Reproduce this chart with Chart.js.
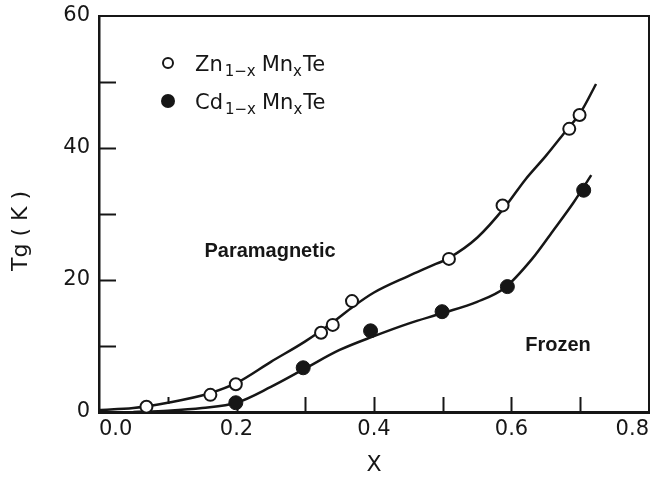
<!DOCTYPE html>
<html>
<head>
<meta charset="utf-8">
<title>Tg vs x</title>
<script src="https://cdn.jsdelivr.net/npm/chart.js@4/dist/chart.umd.min.js"></script>
<style>
  html, body { margin: 0; padding: 0; background: #fff; }
  #wrap { width: 651px; height: 481px; }
</style>
</head>
<body>
<div id="wrap"><canvas id="chart" width="651" height="481"></canvas></div>
<script>
// measured points
var znX  = [0.069, 0.162, 0.199, 0.323, 0.340, 0.368, 0.509, 0.587, 0.684, 0.699];
var znTg = [0.8, 2.6, 4.2, 12.0, 13.2, 16.8, 23.2, 31.3, 42.9, 45.0];
var cdX  = [0.199, 0.297, 0.395, 0.499, 0.594, 0.705];
var cdTg = [1.4, 6.7, 12.3, 15.2, 19.0, 33.6];

// hand-drawn guide curves
var znCurveX  = [0.0, 0.05, 0.10, 0.16, 0.20, 0.25, 0.30, 0.34, 0.37, 0.40, 0.45, 0.48, 0.51, 0.55, 0.59, 0.62, 0.65, 0.68, 0.70, 0.723];
var znCurveTg = [0.3, 0.6, 1.4, 2.8, 4.4, 7.6, 10.7, 13.6, 16.0, 18.1, 20.6, 22.0, 23.4, 26.4, 31.0, 35.2, 38.8, 42.7, 45.3, 49.7];
var cdCurveX  = [0.05, 0.10, 0.15, 0.20, 0.25, 0.30, 0.35, 0.40, 0.45, 0.50, 0.55, 0.59, 0.63, 0.66, 0.69, 0.716];
var cdCurveTg = [0.0, 0.2, 0.6, 1.4, 3.8, 6.6, 9.4, 11.5, 13.4, 15.0, 16.7, 18.8, 23.2, 27.4, 31.7, 35.9];

var xTicks = [0.1, 0.2, 0.3, 0.4, 0.5, 0.6, 0.7];
var yTicks = [10, 20, 30, 40, 50];

var INK = '#161616';
var FONT = "'DejaVu Sans', sans-serif";

function pts(xs, ys) {
  return xs.map(function (x, i) { return { x: x, y: ys[i] }; });
}

// inner ticks plus top/right frame
var framePlugin = {
  id: 'frame',
  beforeDatasetsDraw: function (chart) {
    var ctx = chart.ctx, a = chart.chartArea;
    var xs = chart.scales.x, ys = chart.scales.y;
    ctx.save();
    ctx.strokeStyle = INK;
    ctx.lineWidth = 2;
    ctx.beginPath();
    ctx.moveTo(a.left, a.top);
    ctx.lineTo(a.right, a.top);
    ctx.lineTo(a.right, a.bottom);
    ctx.stroke();
    yTicks.forEach(function (v) {
      var py = Math.round(ys.getPixelForValue(v)) + 0.5;
      ctx.beginPath();
      ctx.moveTo(a.left, py);
      ctx.lineTo(a.left + 17, py);
      ctx.stroke();
    });
    xTicks.forEach(function (v, i) {
      var px = Math.round(xs.getPixelForValue(v)) + 0.5;
      // the 0.1 tick is only a short stub
      var lift = i === 0 ? 8 : 0;
      var len = i === 0 ? 7 : 15;
      ctx.beginPath();
      ctx.moveTo(px, a.bottom - lift);
      ctx.lineTo(px, a.bottom - lift - len);
      ctx.stroke();
    });
    ctx.restore();
  },
  afterDraw: function (chart) {
    var ctx = chart.ctx;
    ctx.save();
    ctx.fillStyle = INK;
    // y axis title
    ctx.translate(21, 231);
    ctx.rotate(-Math.PI / 2);
    ctx.font = '22px ' + FONT;
    ctx.textAlign = 'center';
    ctx.textBaseline = 'middle';
    ctx.fillText('Tg ( K )', 0, 0);
    ctx.restore();

    // region labels
    ctx.save();
    ctx.fillStyle = INK;
    ctx.font = "bold 20px 'Liberation Sans', Arial, sans-serif";
    ctx.textAlign = 'center';
    ctx.textBaseline = 'middle';
    ctx.fillText('Paramagnetic', 270, 251);
    ctx.fillText('Frozen', 558, 345);
    ctx.restore();

    // legend
    drawLegendRow(ctx, 71, 'Zn', false);
    drawLegendRow(ctx, 109, 'Cd', true);
  }
};

function drawLegendRow(ctx, base, host, filled) {
  ctx.save();
  ctx.strokeStyle = INK;
  ctx.fillStyle = INK;
  ctx.lineWidth = 2;
  ctx.beginPath();
  if (filled) {
    ctx.arc(168, base - 8, 7, 0, Math.PI * 2);
    ctx.fill();
  } else {
    ctx.arc(168, base - 8, 5, 0, Math.PI * 2);
    ctx.stroke();
  }
  ctx.textBaseline = 'alphabetic';
  ctx.textAlign = 'left';
  var parts = [
    [host, 21, 0, 2], ['1\u2212x', 15, 5, 6], ['Mn', 21, 0, 0], ['x', 15, 5, 1], ['Te', 21, 0, 0]
  ];
  var x = 195;
  parts.forEach(function (p) {
    ctx.font = p[1] + 'px ' + FONT;
    ctx.fillText(p[0], x, base + p[2]);
    x += ctx.measureText(p[0]).width + p[3];
  });
  ctx.restore();
}

new Chart(document.getElementById('chart'), {
  type: 'scatter',
  data: {
    datasets: [
      {
        label: 'Zn1-xMnxTe',
        data: pts(znX, znTg),
        pointRadius: 6,
        pointBorderWidth: 2,
        pointBackgroundColor: '#fff',
        pointBorderColor: INK,
        showLine: false
      },
      {
        label: 'Cd1-xMnxTe',
        data: pts(cdX, cdTg),
        pointRadius: 7,
        pointBorderWidth: 1,
        pointBackgroundColor: INK,
        pointBorderColor: INK,
        showLine: false
      },
      {
        label: 'Zn fit',
        data: pts(znCurveX, znCurveTg),
        showLine: true,
        borderColor: INK,
        borderWidth: 2.5,
        pointRadius: 0,
        cubicInterpolationMode: 'monotone',
        fill: false
      },
      {
        label: 'Cd fit',
        data: pts(cdCurveX, cdCurveTg),
        showLine: true,
        borderColor: INK,
        borderWidth: 2.5,
        pointRadius: 0,
        cubicInterpolationMode: 'monotone',
        fill: false
      }
    ]
  },
  options: {
    responsive: false,
    animation: false,
    events: [],
    layout: { autoPadding: false, padding: { top: 16, right: 2, left: 0, bottom: 0 } },
    plugins: {
      legend: { display: false },
      tooltip: { enabled: false }
    },
    scales: {
      x: {
        type: 'linear',
        min: 0,
        max: 0.8,
        grid: { drawOnChartArea: false, drawTicks: false },
        border: { display: true, color: INK, width: 3 },
        ticks: {
          stepSize: 0.1,
          autoSkip: false,
          maxRotation: 0,
          align: 'inner',
          padding: 5,
          color: INK,
          font: { family: 'DejaVu Sans', size: 21 },
          callback: function (v) {
            var k = Math.round(v * 10);
            return k % 2 === 0 ? (k / 10).toFixed(1) : '';
          }
        },
        title: {
          display: true,
          text: 'X',
          color: INK,
          font: { family: 'DejaVu Sans', size: 22 },
          padding: { top: 0, bottom: 3 }
        },
        afterFit: function (scale) {
          scale.height = 69;
          scale.paddingLeft = 0;
          scale.paddingRight = 0;
        }
      },
      y: {
        min: 0,
        max: 60,
        grid: { drawOnChartArea: false, drawTicks: false },
        border: { display: true, color: INK, width: 2.5 },
        ticks: {
          stepSize: 10,
          padding: 9,
          color: INK,
          font: { family: 'DejaVu Sans', size: 21 },
          callback: function (v) { return v % 20 === 0 ? v : ''; }
        },
        afterFit: function (scale) {
          scale.width = 99;
          scale.paddingTop = 0;
          scale.paddingBottom = 0;
        }
      }
    }
  },
  plugins: [framePlugin]
});
</script>
</body>
</html>
